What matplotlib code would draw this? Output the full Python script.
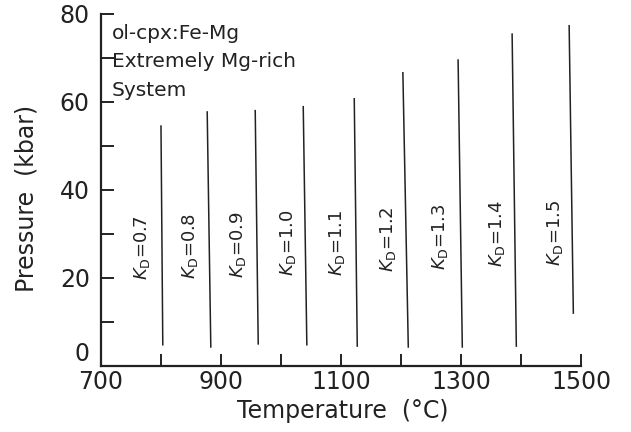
import numpy as np
import matplotlib
matplotlib.use("Agg")
import matplotlib.pyplot as plt
from matplotlib.ticker import MultipleLocator, FixedLocator

# KD isopleths, ol-cpx Fe-Mg
kd = ["0.7", "0.8", "0.9", "1.0", "1.1", "1.2", "1.3", "1.4", "1.5"]
t_top = [800, 877, 957, 1037, 1122, 1203, 1295, 1385, 1480]
p_top = [54.5, 57.7, 58.0, 58.9, 60.7, 66.6, 69.5, 75.4, 77.3]
t_bot = [803, 883, 962, 1043, 1127, 1212, 1302, 1392, 1487]
p_bot = [4.8, 4.3, 5.0, 4.8, 4.5, 4.3, 4.3, 4.5, 12.0]
# label positions
t_lab = [768, 848, 928, 1012, 1093, 1178, 1265, 1360, 1457]
p_lab = [26.8, 27.3, 27.5, 28.0, 28.0, 28.7, 29.3, 30.0, 30.2]

plt.rcParams['font.family'] = 'DejaVu Sans'
plt.rcParams['mathtext.fontset'] = 'dejavusans'

fig = plt.figure(figsize=(6.31, 4.32), dpi=100)
ax = fig.add_axes([0.160, 0.153, 0.761, 0.815])

for i in range(len(kd)):
    ax.plot([t_bot[i], t_top[i]], [p_bot[i], p_top[i]], color='#222222', lw=1.1)
    ax.text(t_lab[i], p_lab[i], r'$K_\mathrm{D}$=' + kd[i], rotation=90,
            ha='center', va='center', fontsize=13, color='#222222')

ax.text(718, 77.8, "ol-cpx:Fe-Mg\nExtremely Mg-rich\nSystem", ha='left', va='top',
        fontsize=14.5, color='#222222', linespacing=1.65)

ax.set_xlim(700, 1500)
ax.set_ylim(0, 80)
ax.spines['top'].set_visible(False)
ax.spines['right'].set_visible(False)
for s in ['left', 'bottom']:
    ax.spines[s].set_linewidth(1.6)
    ax.spines[s].set_color('#222222')

ax.xaxis.set_major_locator(FixedLocator([700, 900, 1100, 1300, 1500]))
ax.xaxis.set_minor_locator(FixedLocator([800, 1000, 1200, 1400]))
ax.yaxis.set_major_locator(MultipleLocator(20))
ax.yaxis.set_minor_locator(MultipleLocator(10))
ax.tick_params(which='both', direction='in', length=9, width=1.4, colors='#222222',
               labelsize=17)
ax.tick_params(axis='y', pad=8)
ax.tick_params(axis='x', pad=3, length=8.5)

ax.set_xlabel("Temperature  (°C)", fontsize=17, color='#222222')
ax.set_ylabel("Pressure  (kbar)", fontsize=17, color='#222222')
ax.xaxis.set_label_coords(0.504, -0.095)
ax.yaxis.set_label_coords(-0.13, 0.477)

# lift the "0" so it clears the "700"
fig.canvas.draw()
for lab in ax.get_yticklabels():
    if lab.get_text() == '0':
        lab.set_va('bottom')

fig.savefig("out.png", dpi=100)
